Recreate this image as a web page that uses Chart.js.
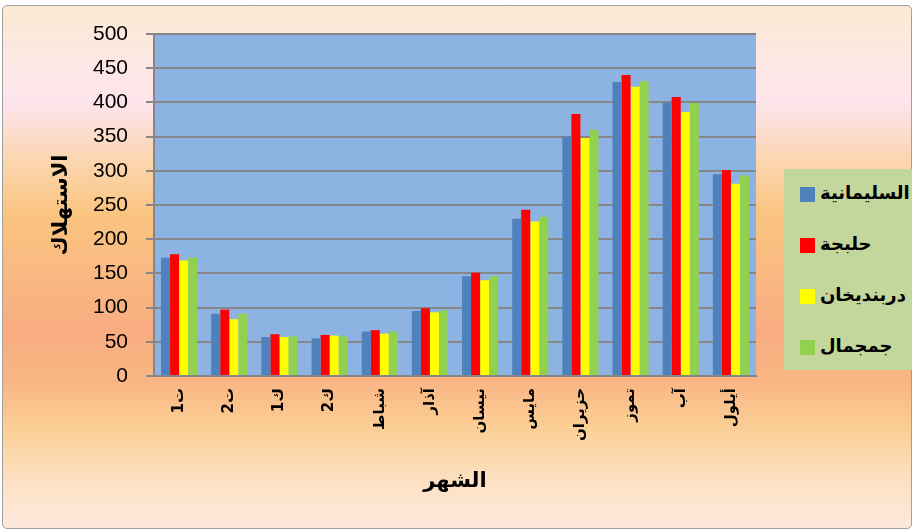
<!DOCTYPE html>
<html>
<head>
<meta charset="utf-8">
<script src="https://cdn.jsdelivr.net/npm/chart.js@4.4.1/dist/chart.umd.min.js"></script>
<style>
  html, body { margin: 0; padding: 0; width: 916px; height: 532px; overflow: hidden; background: #ffffff; }
  #frame {
    position: absolute; left: 2px; top: 5px; width: 910px; height: 524px;
    border: 1px solid #a0a0a0; border-radius: 5px; box-sizing: border-box;
    background: linear-gradient(to bottom,
      #fbead3 0%, #fde6e6 12%, #fde4ec 19%, #fbd5ad 30%, #fac47f 40%,
      #f9b883 52%, #f8ac80 62%, #f9b684 72%, #fbcf96 81%, #fde2c6 92%, #fde8dc 100%);
  }
  #wrap { position: absolute; left: 0; top: 0; width: 916px; height: 532px; }
  #legend {
    position: absolute; left: 784px; top: 169px; width: 128px; height: 201px;
    background: #c3d69b; box-sizing: border-box; padding-top: 18px;
    font-family: "DejaVu Sans", sans-serif; font-weight: bold; font-size: 18px; color: #000;
  }
  .item { position: relative; height: 51px; }
  .sw { position: absolute; left: 16px; top: 0px; width: 15px; height: 15px; }
  .txt { position: absolute; left: 36px; top: -5px; white-space: nowrap; }
</style>
</head>
<body>
<div id="frame"></div>
<div id="wrap"><canvas id="chartBulan" width="916" height="532"></canvas></div>
<div id="legend"></div>
<script>
// bulan-bulan (التقويم العراقي)
const months = ['ت1', 'ت2', 'ك1', 'ك2', 'شباط', 'آذار', 'نيسان', 'مايس', 'حزيران', 'تموز', 'آب', 'أيلول'];
const seriesNames = ['السليمانية', 'حلبجة', 'دربنديخان', 'جمجمال'];
const seriesColors = ['#4f81bd', '#ff0000', '#ffff00', '#92d050'];

const sulaymaniyah = [173, 91, 57, 55, 65, 95, 146, 230, 350, 430, 400, 295];
const halabja      = [178, 97, 61, 60, 67, 99, 151, 243, 383, 440, 408, 301];
const darbandikhan = [169, 83, 57, 59, 62, 93, 140, 226, 348, 423, 386, 281];
const chamchamal   = [173, 91, 58, 58, 65, 96, 146, 233, 360, 431, 399, 293];
const seriesData = [sulaymaniyah, halabja, darbandikhan, chamchamal];

const yTicks = [0, 50, 100, 150, 200, 250, 300, 350, 400, 450, 500];

const axisGray = '#878787';
const arabicFont = '"DejaVu Sans", sans-serif';

// latar biru area plot
const plotBg = {
    id: 'plotBg',
    beforeDraw(chart) {
        const { ctx, chartArea: a } = chart;
        ctx.save();
        ctx.fillStyle = '#8db3e2';
        ctx.fillRect(a.left, a.top, a.right - a.left, a.bottom - a.top);
        ctx.restore();
    }
};

const ctx = document.getElementById('chartBulan');
const chart = new Chart(ctx, {
    type: 'bar',
    data: {
        labels: months,
        datasets: seriesNames.map((name, i) => ({
            label: name,
            data: seriesData[i],
            backgroundColor: seriesColors[i],
            borderWidth: 0,
            categoryPercentage: 0.72,
            barPercentage: 1.0
        }))
    },
    options: {
        responsive: false,
        animation: false,
        layout: { padding: { left: 45, right: 160, top: 34, bottom: 34 } },
        plugins: { legend: { display: false }, tooltip: { enabled: false } },
        scales: {
            x: {
                afterFit: s => { s.height = 122; },
                grid: { display: true, drawOnChartArea: false, drawTicks: false },
                border: { color: axisGray, width: 2 },
                ticks: {
                    autoSkip: false, minRotation: 90, maxRotation: 90, padding: 12,
                    color: '#000', font: { family: arabicFont, size: 15, weight: 'bold' }
                },
                title: {
                    display: true, text: 'الشهر', color: '#000',
                    font: { family: arabicFont, size: 21, weight: 'bold' }
                }
            },
            y: {
                min: 0, max: 500,
                afterFit: s => { s.width = 109; },
                afterBuildTicks: s => { s.ticks = yTicks.map(v => ({ value: v })); },
                grid: { color: axisGray, lineWidth: 2, tickLength: 8 },
                border: { color: axisGray, width: 2 },
                ticks: {
                    padding: 18, color: '#000',
                    font: { family: '"Liberation Sans", Arial, sans-serif', size: 21 }
                },
                title: {
                    display: true, text: 'الاستهلاك', color: '#000',
                    font: { family: arabicFont, size: 21, weight: 'bold' }
                }
            }
        }
    },
    plugins: [plotBg]
});

// legenda di kotak hijau sebelah kanan
const legendEl = document.getElementById('legend');
legendEl.innerHTML = chart.data.datasets.map(ds => `
    <div class="item">
        <div class="sw" style="background:${ds.backgroundColor}"></div>
        <div class="txt">${ds.label}</div>
    </div>`).join('');
</script>
</body>
</html>
